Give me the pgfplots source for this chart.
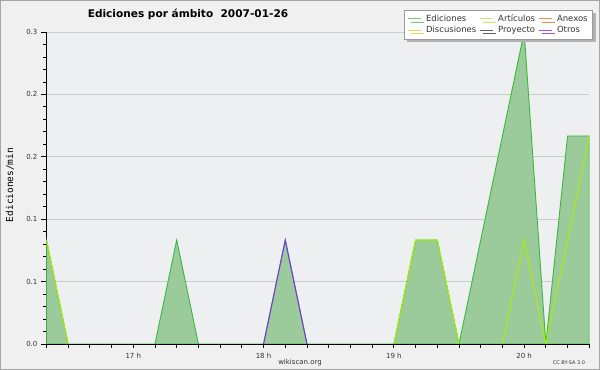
\documentclass[border=0pt]{standalone}
\usepackage{fontspec}
\setmainfont{DejaVu Sans}
\newfontfamily\monofont{DejaVu Sans Mono}
\usepackage{pgfplots}
\pgfplotsset{compat=1.18}
\usetikzlibrary{shadows}
\definecolor{outerbg}{HTML}{F0F0F0}
\definecolor{plotbg}{HTML}{EEEFF1}
\definecolor{gridc}{HTML}{CCCCCC}
\definecolor{edfill}{HTML}{9BCB9B}
\definecolor{edline}{HTML}{3DB83D}
\definecolor{artline}{HTML}{AAEE00}
\definecolor{otline}{HTML}{7A2FE8}
\definecolor{legEd}{HTML}{77CC77}
\definecolor{legArt}{HTML}{CCEE66}
\definecolor{legAnx}{HTML}{F08A50}
\definecolor{legDis}{HTML}{F5D060}
\definecolor{legPro}{HTML}{606060}
\definecolor{legOt}{HTML}{9955EE}
\definecolor{txt}{HTML}{333333}
\begin{document}
\begin{tikzpicture}
\useasboundingbox (0,0) rectangle (600bp,370bp);
\fill[outerbg] (0,0) rectangle (600bp,370bp);
\draw[gray!70, line width=1bp] (0.5bp,0.5bp) rectangle (599.5bp,369.5bp);
\begin{axis}[
  at={(46.4bp,26bp)}, anchor=south west,
  scale only axis, width=542.9bp, height=312bp,
  xmin=20, xmax=270, ymin=0, ymax=0.25,
  axis lines=left, axis line style={-, black, line width=0.8bp},
  axis background/.style={fill=plotbg},
  xtick={60,120,180,240}, xticklabels={17 h,18 h,19 h,20 h},
  minor xtick={20,30,...,270},
  ytick={0,0.05,0.1,0.15,0.2,0.25},
  yticklabels={0.0,0.1,0.1,0.2,0.2,0.3},
  minor y tick num=4,
  tick align=outside,
  major tick length=5.5bp, minor tick length=3bp,
  xtick style={black, line width=0.8bp},
  ytick style={black, line width=0.8bp},
  x tick style={/pgfplots/major tick length=4bp, /pgfplots/minor tick length=4bp},
  ymajorgrids, major grid style={gridc, line width=0.8bp},
  tick label style={font=\fontsize{7}{8}\selectfont, text=txt},
  /pgf/number format/assume math mode=true,
  unbounded coords=jump,
  legend columns=3,
  legend cell align=left,
  legend style={at={(0.6587,1.0705)}, anchor=north west,
    draw=gray!80, fill=white, font=\fontsize{8.5}{9}\selectfont,
    text=txt, inner xsep=3bp, inner ysep=2.5bp, row sep=-0.5bp,
    drop shadow={shadow xshift=3bp, shadow yshift=-3bp, fill=gray!60, opacity=1},
    /tikz/every even column/.append style={column sep=1bp},
    /tikz/every odd column/.append style={column sep=3bp}},
  legend image code/.code={\draw[#1, line width=0.9bp] (0bp,0bp) -- (13bp,0bp);},
]
\addplot[draw=edline, fill=edfill, line width=0.9bp, forget plot] coordinates {
(20,0.0833) (30,0) (40,0) (50,0) (60,0) (70,0) (80,0.0833) (90,0)
(100,0) (110,0) (120,0) (130,0.0833) (140,0) (150,0) (160,0) (170,0)
(180,0) (190,0.0833) (200,0.0833) (210,0) (220,0.0833) (230,0.1667)
(240,0.25) (250,0) (260,0.1667) (270,0.1667)} \closedcycle;
\addplot[draw=artline, line width=1bp, forget plot] coordinates {
(20,0.0833) (30,0) (40,nan) (180,0) (190,0.0833) (200,0.0833) (210,0)
(220,nan) (230,0) (240,0.0833) (250,0) (260,0.0833) (270,0.1667)};
\addplot[draw=otline, line width=1bp, forget plot] coordinates {
(120,0) (130,0.0833) (140,0)};
\addlegendimage{draw=legEd}\addlegendentry{Ediciones}
\addlegendimage{draw=legArt}\addlegendentry{Artículos}
\addlegendimage{draw=legAnx}\addlegendentry{Anexos}
\addlegendimage{draw=legDis}\addlegendentry{Discusiones}
\addlegendimage{draw=legPro}\addlegendentry{Proyecto}
\addlegendimage{draw=legOt}\addlegendentry{Otros}
\end{axis}
\node[font=\bfseries\fontsize{10.6}{12}\selectfont, text=black] at (188bp,356bp) {Ediciones por ámbito\ \ 2007-01-26};
\node[rotate=90, font=\monofont\fontsize{9.5}{10}\selectfont, text=black] at (10bp,185bp) {Ediciones/min};
\node[font=\fontsize{7}{8}\selectfont, text=txt] at (300bp,7bp) {wikiscan.org};
\node[font=\fontsize{5}{6}\selectfont, text=txt] at (569bp,7bp) {CC BY-SA 3.0};
\end{tikzpicture}
\end{document}
